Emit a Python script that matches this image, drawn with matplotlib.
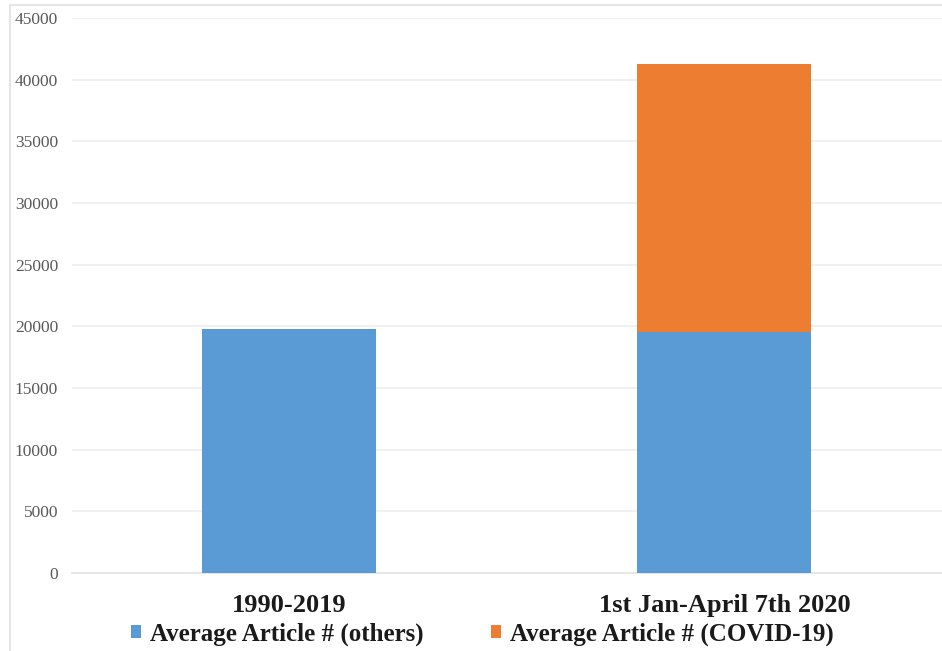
import numpy as np
import matplotlib.pyplot as plt
from matplotlib.patches import Rectangle

# Average article counts per period
periods = ["1990-2019", "1st Jan-April 7th 2020"]
others = [19800, 19500]
covid = [0, 21800]
series_names = ["Average Article # (others)", "Average Article # (COVID-19)"]
yticks = list(range(0, 45001, 5000))

blue = "#5B9BD5"
orange = "#ED7D31"

plt.rcParams['font.family'] = ['Liberation Serif', 'DejaVu Serif']

fig = plt.figure(figsize=(9.42, 6.51), dpi=100)
ax = fig.add_axes([0.0764, 0.1198, 0.9236, 0.8526])

x = np.arange(len(periods))
ax.bar(x, others, width=0.4, color=blue, label=series_names[0], zorder=3)
ax.bar(x, covid, width=0.4, bottom=others, color=orange, label=series_names[1], zorder=3)

ax.set_xlim(-0.5, 1.5)
ax.set_ylim(0, 45000)
ax.set_yticks(yticks)
ax.set_yticklabels([str(v) for v in yticks], fontsize=12.5, color="#595959")
ax.set_xticks(x)
ax.set_xticklabels(periods, fontsize=19, fontweight="bold", color="#1A1A1A")
ax.tick_params(axis="y", length=0, pad=10)
ax.tick_params(axis="x", length=0, pad=15)
ax.grid(axis="y", color="#EEEEEE", linewidth=1.2, zorder=0)
for s in ["top", "right", "left"]:
    ax.spines[s].set_visible(False)
ax.spines["bottom"].set_color("#E3E3E3")
ax.spines["bottom"].set_linewidth(1.2)

leg = fig.legend(loc="center", bbox_to_anchor=(0.512, 1 - 634 / 651), ncol=2, frameon=False,
                 prop={"size": 18, "weight": "bold"}, handlelength=0.4, handleheight=0.4,
                 handletextpad=0.35, columnspacing=2.7)
for t in leg.get_texts():
    t.set_color("#1A1A1A")

# light outer frame
fig.patches.append(Rectangle((10 / 942, -0.01), 1.0, 1 - 5 / 651 + 0.01, transform=fig.transFigure,
                             fill=False, edgecolor="#E6E6E6", linewidth=1.5))

fig.savefig("out.png", dpi=100)
